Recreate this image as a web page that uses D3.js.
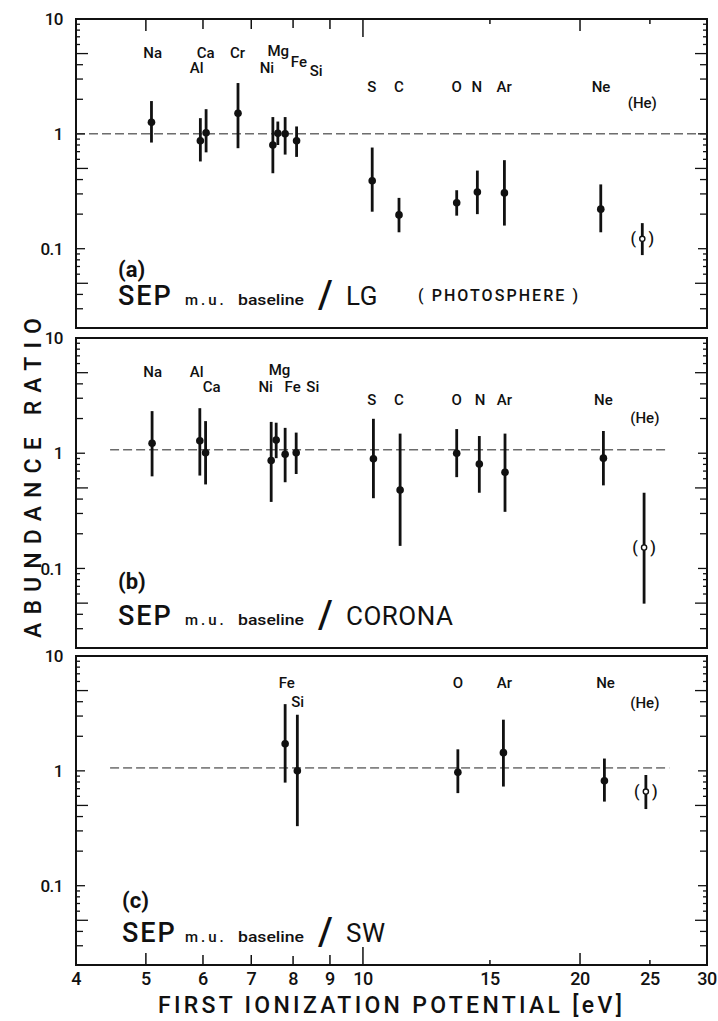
<!DOCTYPE html>
<html><head><meta charset="utf-8">
<script src="https://cdn.jsdelivr.net/npm/d3@7"></script>
<style>
body{margin:0;background:#fff}
svg{display:block}
text{font-family:Roboto,"DejaVu Sans",sans-serif;fill:#111}
</style>
</head><body>
<svg id="chart" width="718" height="1021"></svg>
<script>
// ---------- DATA ----------
// Panel (a): SEP / LG (photosphere)
const aElements = ["Na","Al","Ca","Cr","Ni","Mg","Fe","Si","S","C","O","N","Ar","Ne","He"];
const aFip   = [5.09,5.95,6.06,6.71,7.50,7.62,7.80,8.09,10.30,11.22,13.49,14.41,15.71,21.37,24.4];
const aRatio = [1.26,0.87,1.02,1.51,0.80,1.01,1.00,0.87,0.39,0.197,0.251,0.312,0.306,0.221,0.122];
const aLow   = [0.84,0.575,0.69,0.75,0.454,0.80,0.66,0.63,0.21,0.139,0.194,0.20,0.159,0.139,0.088];
const aHigh  = [1.93,1.37,1.64,2.77,1.40,1.28,1.40,1.16,0.76,0.277,0.323,0.479,0.59,0.363,0.167];

// Panel (b): SEP / corona
const bElements = ["Na","Al","Ca","Ni","Mg","Fe","Si","S","C","O","N","Ar","Ne","He"];
const bFip   = [5.10,5.94,6.05,7.46,7.58,7.80,8.08,10.34,11.26,13.49,14.50,15.74,21.55,24.54];
const bRatio = [1.22,1.28,1.01,0.866,1.30,0.98,1.01,0.895,0.479,1.0,0.805,0.684,0.906,0.152];
const bLow   = [0.63,0.64,0.536,0.378,0.906,0.56,0.66,0.407,0.157,0.62,0.454,0.31,0.526,0.0495];
const bHigh  = [2.32,2.46,1.90,1.87,1.84,1.66,1.51,1.99,1.48,1.62,1.41,1.48,1.56,0.454];

// Panel (c): SEP / solar wind
const cElements = ["Fe","Si","O","Ar","Ne","He"];
const cFip   = [7.80,8.11,13.54,15.66,21.62,24.68];
const cRatio = [1.72,1.0,0.97,1.44,0.82,0.66];
const cLow   = [0.79,0.33,0.64,0.73,0.54,0.465];
const cHigh  = [3.81,3.08,1.54,2.79,1.28,0.92];

// element name annotations (data coordinates: FIP, ratio level)
const aLabelText  = ["Na","Ca","Al","Cr","Mg","Ni","Fe","Si","S","C","O","N","Ar","Ne","(He)"];
const aLabelFip   = [5.11,6.05,5.88,6.70,7.63,7.36,8.15,8.61,10.29,11.22,13.49,14.38,15.70,21.39,24.4];
const aLabelLevel = [5.15,5.15,3.81,5.15,5.35,3.81,4.24,3.52,2.6,2.6,2.6,2.6,2.6,2.6,1.88];

const bLabelText  = ["Na","Al","Ca","Mg","Ni","Fe","Si","S","C","O","N","Ar","Ne","(He)"];
const bLabelFip   = [5.11,5.88,6.17,7.66,7.33,7.99,8.52,10.29,11.22,13.49,14.54,15.71,21.55,24.6];
const bLabelLevel = [5.07,5.07,3.76,5.3,3.76,3.76,3.76,2.9,2.9,2.9,2.9,2.9,2.9,2.02];

const cLabelText  = ["Fe","Si","O","Ar","Ne","(He)"];
const cLabelFip   = [7.84,8.12,13.54,15.71,21.7,24.6];
const cLabelLevel = [5.83,3.98,5.83,5.83,5.83,3.9];

// reference (ratio = 1) dashed lines
const refValue = [1.0, 1.07, 1.06];
const refFrom  = [4, 4.46, 4.46];
const refTo    = [30, 26.4, 26.6];

// axes
const xTickValues = [4,5,6,7,8,9,10,15,20,25,30];
const xTickLabels = ["4","5","6","7","8","9","10","15","20","25","30"];
const yTickLabelValues = [10,1,0.1];
const yTickLabels = ["10","1","0.1"];
const panelTags = ["(a)","(b)","(c)"];
const panelRefs = ["LG","CORONA","SW"];

// ---------- LAYOUT ----------
const svg = d3.select("#chart");
const x = d3.scaleLog().domain([4,30]).range([76,707]);
const panelTop = [19,338,656], panelBottom = [328,648,965];
const yMin = 0.0204, yMax = 10;

function makePanel(i, els, fip, ratio, lo, hi, lt, lf, ll) {
  const y = d3.scaleLog().domain([yMin,yMax]).range([panelBottom[i], panelTop[i]]);
  const g = svg.append("g");
  g.append("rect").attr("x",x(4)).attr("y",y(yMax)).attr("width",x(30)-x(4)).attr("height",y(yMin)-y(yMax))
   .attr("fill","none").attr("stroke","#111").attr("stroke-width",2);
  const yt = [];
  [0.01,0.1,1].forEach(d=>{for(let m=1;m<=9;m++){const v=+(m*d).toPrecision(3); if(v>=yMin && v<yMax) yt.push({v,m});}});
  const tl = m => m===1?9:(m===5?12:(m<5?7:4));
  g.selectAll(".ytl").data(yt).join("line")
   .attr("x1",x(4)).attr("x2",d=>x(4)+tl(d.m)).attr("y1",d=>y(d.v)).attr("y2",d=>y(d.v))
   .attr("stroke","#111").attr("stroke-width",1.3);
  g.selectAll(".ytr").data(yt).join("line")
   .attr("x1",x(30)).attr("x2",d=>x(30)-tl(d.m)).attr("y1",d=>y(d.v)).attr("y2",d=>y(d.v))
   .attr("stroke","#111").attr("stroke-width",1.3);
  g.selectAll(".ylab").data(yTickLabelValues).join("text")
   .attr("x",63).attr("y",d=>y(d)).attr("dy","0.36em").attr("text-anchor","end")
   .attr("font-size",17).attr("font-weight",500).attr("letter-spacing",-0.5)
   .text((d,k)=>yTickLabels[k]);
  g.append("line").attr("x1",x(refFrom[i])).attr("x2",x(refTo[i]))
   .attr("y1",y(refValue[i])).attr("y2",y(refValue[i]))
   .attr("stroke","#222").attr("stroke-width",1).attr("stroke-dasharray","9,4");
  const data = els.map((e,k)=>({e,f:fip[k],r:ratio[k],lo:lo[k],hi:hi[k]}));
  g.selectAll(".err").data(data).join("line")
   .attr("x1",d=>x(d.f)).attr("x2",d=>x(d.f)).attr("y1",d=>y(d.lo)).attr("y2",d=>y(d.hi))
   .attr("stroke","#111").attr("stroke-width",2.8);
  g.selectAll(".pt").data(data).join("circle")
   .attr("cx",d=>x(d.f)).attr("cy",d=>y(d.r)).attr("r",d=>d.e==="He"?2.6:3.8)
   .attr("fill",d=>d.e==="He"?"#fff":"#111").attr("stroke","#111").attr("stroke-width",d=>d.e==="He"?1.4:0);
  const he = data.filter(d=>d.e==="He");
  g.selectAll(".pl").data(he).join("text").attr("x",d=>x(d.f)-9).attr("y",d=>y(d.r)).attr("dy","0.35em")
   .attr("text-anchor","middle").attr("font-size",16).attr("font-weight",500).text("(");
  g.selectAll(".pr").data(he).join("text").attr("x",d=>x(d.f)+9).attr("y",d=>y(d.r)).attr("dy","0.35em")
   .attr("text-anchor","middle").attr("font-size",16).attr("font-weight",500).text(")");
  g.selectAll(".el").data(lt).join("text")
   .attr("x",(d,k)=>x(lf[k])).attr("y",(d,k)=>y(ll[k])).attr("dy","0.36em")
   .attr("text-anchor","middle").attr("font-size",15).attr("font-weight",500).text(d=>d);
  return y;
}

makePanel(0,aElements,aFip,aRatio,aLow,aHigh,aLabelText,aLabelFip,aLabelLevel);
makePanel(1,bElements,bFip,bRatio,bLow,bHigh,bLabelText,bLabelFip,bLabelLevel);
makePanel(2,cElements,cFip,cRatio,cLow,cHigh,cLabelText,cLabelFip,cLabelLevel);

// x ticks: top of panel (a) pointing down, bottom of panel (c) pointing up
const xtl = v => ({5:12,6:10,7:10,8:9,9:10,10:18,15:5,20:12,25:5}[v] || 0);
const innerTicks = xTickValues.filter(v=>v>4 && v<30);
svg.selectAll(".xtt").data(innerTicks).join("line")
  .attr("x1",d=>x(d)).attr("x2",d=>x(d)).attr("y1",panelTop[0]).attr("y2",d=>panelTop[0]+xtl(d))
  .attr("stroke","#111").attr("stroke-width",1.5);
svg.selectAll(".xtb").data(innerTicks).join("line")
  .attr("x1",d=>x(d)).attr("x2",d=>x(d)).attr("y1",panelBottom[2]).attr("y2",d=>panelBottom[2]-xtl(d))
  .attr("stroke","#111").attr("stroke-width",1.5);
svg.selectAll(".xlab").data(xTickValues).join("text")
  .attr("x",d=>x(d)).attr("y",985).attr("text-anchor","middle")
  .attr("font-size",18).attr("font-weight",500).attr("letter-spacing",-0.5)
  .text((d,k)=>xTickLabels[k]);

// axis titles
svg.append("text").attr("x",390).attr("y",1013).attr("text-anchor","middle")
  .attr("font-size",23).attr("font-weight",500)
  .attr("textLength",464).attr("lengthAdjust","spacing")
  .text("FIRST  IONIZATION  POTENTIAL  [eV]");
svg.append("text").attr("transform","translate(41,478) rotate(-90)").attr("text-anchor","middle")
  .attr("font-size",23).attr("font-weight",500)
  .attr("textLength",320).attr("lengthAdjust","spacing")
  .text("ABUNDANCE  RATIO");

// panel captions
const tagY = [277, 589, 908], sepY = [305, 625, 942], sepX = [118,118,122];
panelTags.forEach((t,i)=>{
  svg.append("text").attr("x",sepX[i]).attr("y",tagY[i]).attr("font-size",22).attr("font-weight",700).text(t);
  svg.append("text").attr("x",sepX[i]).attr("y",sepY[i]).attr("font-size",27).attr("font-weight",500)
    .attr("letter-spacing",2).text("SEP");
  svg.append("text").attr("x",185).attr("y",sepY[i]).attr("font-size",15).attr("font-weight",500)
    .attr("letter-spacing",3).text("m.u.");
  svg.append("text").attr("x",238).attr("y",sepY[i]).attr("font-size",15).attr("font-weight",500)
    .attr("textLength",66).attr("lengthAdjust","spacingAndGlyphs").text("baseline");
  svg.append("text").attr("x",318).attr("y",sepY[i]+3).attr("font-size",38).attr("font-weight",500).text("/");
  svg.append("text").attr("x",346).attr("y",sepY[i]).attr("font-size",26).attr("font-weight",400)
    .attr("letter-spacing",0.5).text(panelRefs[i]);
});
svg.append("text").attr("x",418).attr("y",301).attr("font-size",16).attr("font-weight",500)
  .attr("textLength",160).attr("lengthAdjust","spacing").text("( PHOTOSPHERE )");
</script>
</body></html>
